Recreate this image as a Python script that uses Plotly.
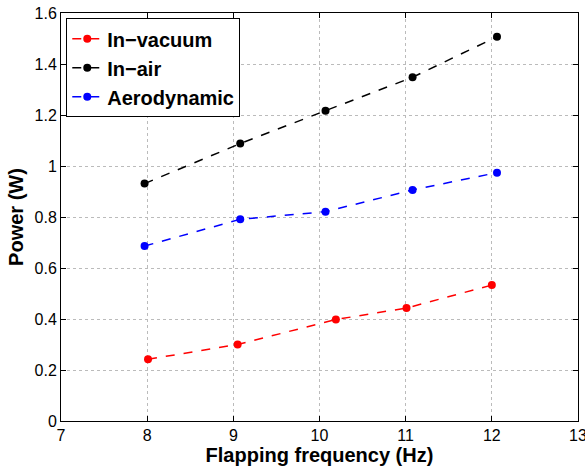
import plotly.graph_objects as go

freq_vacuum = [8.01, 9.05, 10.19, 11.01, 12.0]
power_vacuum = [0.242, 0.300, 0.398, 0.443, 0.533]
freq_air = [7.97, 9.08, 10.07, 11.08, 12.06]
power_air = [0.931, 1.088, 1.217, 1.348, 1.507]
freq_aero = [7.97, 9.08, 10.07, 11.08, 12.06]
power_aero = [0.686, 0.791, 0.821, 0.906, 0.974]

x_ticks = [7, 8, 9, 10, 11, 12, 13]
y_ticks = [0, 0.2, 0.4, 0.6, 0.8, 1.0, 1.2, 1.4, 1.6]

series = [
    ("In\u2212vacuum", freq_vacuum, power_vacuum, "#ff0000"),
    ("In\u2212air", freq_air, power_air, "#000000"),
    ("Aerodynamic", freq_aero, power_aero, "#0000ff"),
]

fig = go.Figure()
for name, xs, ys, col in series:
    fig.add_trace(go.Scatter(
        x=xs, y=ys, name=name, mode="lines+markers",
        line=dict(color=col, width=1.5, dash="dash"),
        marker=dict(color=col, size=8, symbol="circle"),
    ))

font_family = "Liberation Sans, Arial, sans-serif"
axis_common = dict(
    showline=True, linecolor="black", linewidth=1, mirror="ticks",
    ticks="inside", ticklen=5, tickcolor="black", tickwidth=1,
    showgrid=True, gridcolor="#bbbbbb", griddash="dot", gridwidth=1,
    zeroline=False, ticklabeloverflow="allow", automargin=False,
    tickfont=dict(family=font_family, size=16, color="black"),
)

fig.update_layout(
    width=585, height=466,
    margin=dict(l=61, r=7, t=13, b=45),
    paper_bgcolor="white", plot_bgcolor="white",
    font=dict(family=font_family, color="black"),
    xaxis=dict(range=[7, 13], tickvals=x_ticks, **axis_common,
               title=dict(text="<b>Flapping frequency (Hz)</b>",
                          font=dict(family=font_family, size=20), standoff=1)),
    yaxis=dict(range=[0, 1.6], tickvals=y_ticks, **axis_common,
               title=dict(text="<b>Power (W)</b>",
                          font=dict(family=font_family, size=20), standoff=5)),
    legend=dict(x=0.0102, y=0.987, xanchor="left", yanchor="top",
                bgcolor="white", bordercolor="black", borderwidth=1,
                font=dict(family=font_family, size=20, color="black",
                          weight="bold"),
                tracegroupgap=0, itemwidth=30),
    showlegend=True,
)

fig.write_html("out.html")
